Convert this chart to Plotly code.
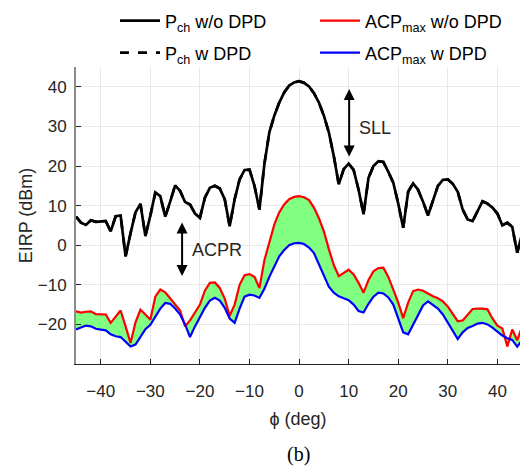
import plotly.graph_objects as go

# Azimuth angle (deg)
phi = list(range(-45, 46))

# Channel power without DPD (dBm)
p_ch_wo = [7.2, 5.7, 5.1, 6.3, 5.9, 6.0, 6.1, 3.5, 7.3, 7.5,
           -2.8, 3.0, 8.3, 10.4, 2.3, 7.5, 13.3, 12.4, 7.2, 11.0,
           15.1, 13.7, 10.9, 10.3, 8.0, 6.9, 12.0, 14.5, 15.0, 14.3,
           11.6, 4.8, 11.6, 16.6, 19.0, 19.1, 15.0, 9.0, 20.5, 28.5,
           32.7, 36.0, 38.6, 40.3, 41.1, 41.4, 41.0, 40.1, 38.4, 36.0,
           32.7, 28.5, 22.5, 15.4, 19.2, 20.6, 19.0, 14.0, 7.8, 17.0,
           20.0, 21.2, 21.0, 18.5, 15.8, 10.5, 4.4, 13.5, 15.6, 14.0,
           11.0, 7.5, 11.5, 15.0, 16.5, 16.6, 15.5, 13.5, 9.0, 6.5,
           6.1, 8.5, 11.1, 10.5, 9.5, 8.0, 5.0, 5.7, 4.6, -1.9, 3.0]

# Channel power with DPD (dBm) - coincides with the curve above
p_ch_w = list(p_ch_wo)

# Maximum adjacent channel power without DPD (dBm)
acp_wo = [-16.7, -17.0, -16.8, -16.7, -17.4, -17.5, -17.5, -19.6, -18.0, -16.5,
          -20.5, -24.7, -19.5, -16.3, -17.5, -18.8, -13.0, -11.2, -11.9, -13.5,
          -15.2, -16.5, -20.5, -19.0, -17.0, -15.0, -11.5, -9.5, -9.4, -10.8,
          -13.5, -17.8, -15.0, -10.0, -7.6, -7.3, -8.0, -10.8, -3.8, 1.0,
          5.2, 8.3, 10.3, 11.6, 12.2, 12.4, 12.1, 11.4, 9.5, 6.8,
          3.5, -1.0, -5.0, -7.8, -7.0, -6.2, -7.4, -9.5, -12.0, -8.8,
          -6.6, -5.8, -5.7, -8.0, -11.2, -14.5, -18.4, -14.5, -11.6, -11.2,
          -11.5, -12.3, -12.9, -13.4, -14.2, -15.5, -17.5, -19.2, -19.0, -17.5,
          -16.1, -16.0, -16.0, -16.2, -18.5, -20.3, -21.0, -25.6, -21.3, -24.0, -20.5]

# Maximum adjacent channel power with DPD (dBm)
acp_w = [-21.3, -20.8, -20.3, -20.5, -21.1, -21.3, -21.5, -22.5, -23.0, -23.2,
         -24.5, -25.6, -25.1, -23.0, -21.2, -20.1, -18.2, -16.0, -14.6, -14.8,
         -16.0, -17.5, -20.0, -23.2, -20.5, -18.0, -15.8, -14.0, -13.3, -14.0,
         -15.8, -18.5, -19.6, -16.0, -13.0, -12.5, -12.7, -13.3, -11.0, -8.0,
         -5.5, -2.8, -1.2, 0.0, 0.5, 0.6, 0.3, -0.6, -2.0, -4.8,
         -7.5, -10.5, -12.0, -12.9, -13.4, -13.9, -15.0, -16.6, -17.0, -14.8,
         -13.0, -12.0, -12.2, -13.2, -15.0, -18.5, -22.0, -22.5, -20.0, -17.5,
         -15.2, -14.2, -15.0, -16.0, -17.5, -19.5, -21.8, -23.7, -22.0, -20.9,
         -20.4, -19.8, -19.6, -20.0, -20.8, -21.8, -22.8, -23.5, -23.9, -25.6, -24.0]

x_ticks = [-40, -30, -20, -10, 0, 10, 20, 30, 40]
y_ticks = [-20, -10, 0, 10, 20, 30, 40]

TXT = "#262626"
FONT = "Liberation Sans, Arial, sans-serif"

fig = go.Figure()

# shaded gap between ACP with and without DPD
fig.add_trace(go.Scatter(x=phi, y=acp_w, mode="lines", line=dict(width=0, color="blue"),
                         showlegend=False, hoverinfo="skip"))
fig.add_trace(go.Scatter(x=phi, y=acp_wo, mode="lines", fill="tonexty",
                         fillcolor="#80ff80", line=dict(width=0, color="red"),
                         showlegend=False, hoverinfo="skip"))

# curves
fig.add_trace(go.Scatter(x=phi, y=acp_wo, mode="lines", line=dict(color="#ff0000", width=2.2),
                         name="ACP<sub>max</sub> w/o DPD", legend="legend2"))
fig.add_trace(go.Scatter(x=phi, y=acp_w, mode="lines", line=dict(color="#0000ff", width=2.2),
                         name="ACP<sub>max</sub> w DPD", legend="legend4"))
fig.add_trace(go.Scatter(x=phi, y=p_ch_wo, mode="lines", line=dict(color="black", width=2.7),
                         name="P<sub>ch</sub> w/o DPD", legend="legend"))
fig.add_trace(go.Scatter(x=phi, y=p_ch_w, mode="lines",
                         line=dict(color="black", width=2.7, dash="dash"),
                         name="P<sub>ch</sub> w DPD", legend="legend3"))


def legend_box(x_px, y_px):
    # single-entry legend with its left edge / centre at the given pixel spot
    return dict(orientation="h", x=(x_px - 76) / 444, xanchor="left",
                y=(364 - y_px) / 297, yanchor="middle", itemwidth=40,
                font=dict(family=FONT, size=18, color="black"),
                bgcolor="rgba(0,0,0,0)")


fig.update_layout(
    width=520, height=466,
    margin=dict(l=76, r=0, t=67, b=102, autoexpand=False),
    paper_bgcolor="white", plot_bgcolor="white",
    font=dict(family=FONT, size=17, color=TXT),
    legend=legend_box(115, 21),
    legend2=legend_box(315, 21),
    legend3=legend_box(115, 53),
    legend4=legend_box(315, 53),
    xaxis=dict(range=[-45, 44.56], tickvals=x_ticks, ticks="inside", ticklen=5,
               tickcolor=TXT, showline=True, linecolor=TXT, linewidth=1,
               showgrid=True, gridcolor="#e8e8e8", gridwidth=1, zeroline=False,
               ticklabelstandoff=12,
               tickfont=dict(size=17, color=TXT),
               title=dict(text="ϕ (deg)", font=dict(size=18, color=TXT), standoff=11)),
    yaxis=dict(range=[-30, 45], tickvals=y_ticks, ticks="inside", ticklen=5,
               tickcolor=TXT, showline=True, linecolor="#8c8c8c", linewidth=2,
               showgrid=True, gridcolor="#e8e8e8", gridwidth=1, zeroline=False,
               ticklabelstandoff=4,
               tickfont=dict(size=17, color=TXT),
               title=dict(text="EIRP (dBm)", font=dict(size=18, color=TXT), standoff=0)),
)

# SLL marker
fig.add_annotation(x=10.1, y=22.4, ax=10.1, ay=39.8, xref="x", yref="y", axref="x", ayref="y",
                   text="", showarrow=True, arrowhead=2, startarrowhead=2,
                   arrowside="end+start", arrowsize=1.1, arrowwidth=2, arrowcolor="black")
fig.add_annotation(x=15.3, y=29.7, xref="x", yref="y", text="SLL", showarrow=False,
                   font=dict(family=FONT, size=18, color=TXT))

# ACPR marker
fig.add_annotation(x=-23.6, y=-7.8, ax=-23.6, ay=6.1, xref="x", yref="y", axref="x", ayref="y",
                   text="", showarrow=True, arrowhead=2, startarrowhead=2,
                   arrowside="end+start", arrowsize=1.1, arrowwidth=2, arrowcolor="black")
fig.add_annotation(x=-16.6, y=-1.1, xref="x", yref="y", text="ACPR", showarrow=False,
                   font=dict(family=FONT, size=18, color=TXT))

# sub-figure label
fig.add_annotation(x=(298 - 76) / 444, y=-(454 - 364) / 297, xref="paper", yref="paper",
                   yanchor="middle", text="(b)", showarrow=False,
                   font=dict(family="Liberation Serif, Times New Roman, serif", size=20, color="black"))

fig.write_html("out.html")
